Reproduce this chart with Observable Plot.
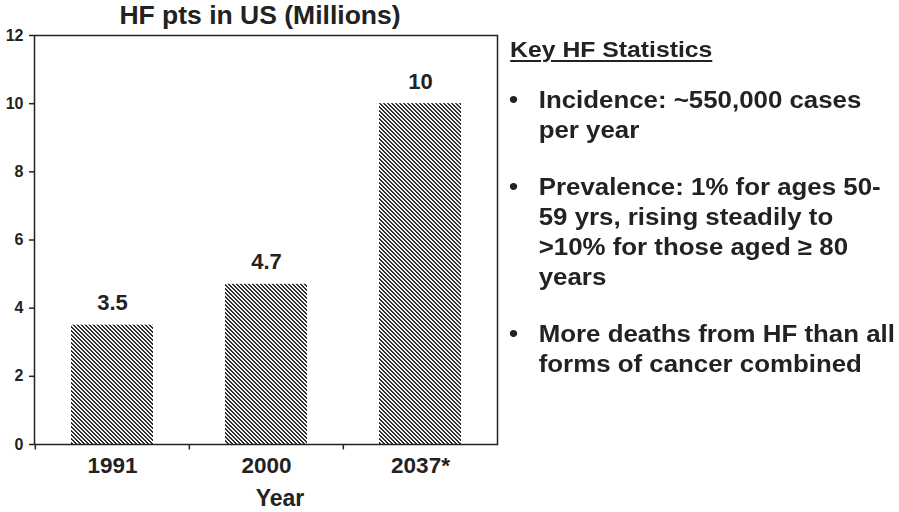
<!DOCTYPE html>
<html>
<head>
<meta charset="utf-8">
<script src="https://cdn.jsdelivr.net/npm/d3@7"></script>
<script src="https://cdn.jsdelivr.net/npm/@observablehq/plot@0.6"></script>
<style>
  html, body { margin: 0; padding: 0; background: #fff; }
  #wrap { position: relative; width: 899px; height: 512px; overflow: hidden; font-family: "Liberation Sans", Arial, sans-serif; color: #222; }
  #stats { position: absolute; left: 509px; top: 0; width: 360px; transform: scaleX(1.1); transform-origin: left top; font-weight: bold; color: #222; }
  #stats .head { position: absolute; left: 1px; top: 35px; font-size: 22.5px; line-height: 30px; text-decoration: underline; text-underline-offset: 3px; text-decoration-thickness: 2px; white-space: nowrap; }
  #stats .item { position: absolute; left: 0; font-size: 23.5px; line-height: 30px; white-space: nowrap; }
  #stats .bullet { position: absolute; left: 0; top: 0; }
  #stats .txt { position: absolute; left: 27px; top: 0; }
</style>
</head>
<body>
<div id="wrap"></div>
<script>
// ---- data ----
const categories = ["1991", "2000", "2037*"];
const values = [3.5, 4.7, 10];
const yTicks = [0, 2, 4, 6, 8, 10, 12];
const chartTitle = "HF pts in US (Millions)";
const xTitle = "Year";
const statsHeading = "Key HF Statistics";
const statsItems = [
  ["Incidence: ~550,000 cases", "per year"],
  ["Prevalence: 1% for ages 50-", "59 yrs, rising steadily to", ">10% for those aged \u2265 80", "years"],
  ["More deaths from HF than all", "forms of cancer combined"]
];

const data = categories.map((c, i) => ({year: c, value: values[i]}));

const W = 899, H = 512, mL = 34, mR = 402, mT = 35, mB = 68;
const step = (W - mL - mR) / categories.length;
const ink = "#222";

const plot = Plot.plot({
  width: W,
  height: H,
  marginLeft: mL,
  marginRight: mR,
  marginTop: mT,
  marginBottom: mB,
  style: {fontFamily: "'Liberation Sans', Arial, sans-serif", color: ink, background: "transparent"},
  x: {type: "band", domain: categories, paddingInner: 0.47, paddingOuter: 0.235, label: null},
  y: {domain: [0, 12], label: null},
  marks: [
    Plot.barY(data, {x: "year", y: "value", fill: "url(#hatch)"}),
    Plot.frame({stroke: ink, strokeWidth: 1.5}),
    Plot.axisY({ticks: yTicks, tickSize: 5, tickPadding: 6, fontSize: 16, fontWeight: "bold", stroke: ink, strokeWidth: 1.5, label: null}),
    Plot.axisX({tickSize: 0, tickPadding: 13, fontSize: 22.5, fontWeight: "bold", label: null}),
    Plot.ruleX(categories, {x: d => d, y1: 0, y2: -0.16, dx: -step / 2, stroke: ink, strokeWidth: 1.5}),
    Plot.text(data, {x: "year", y: "value", text: d => String(d.value), dy: -22, fontSize: 22, fontWeight: "bold", fill: ink}),
    Plot.text([chartTitle], {frameAnchor: "top", lineAnchor: "middle", text: d => d, dy: -20, dx: -6, fontSize: 26.5, fontWeight: "bold", fill: ink}),
    Plot.text([xTitle], {frameAnchor: "bottom", lineAnchor: "middle", text: d => d, dy: 54, dx: 14, fontSize: 23, fontWeight: "bold", fill: ink})
  ]
});

// hatch pattern definition (pixel aligned "\\" diagonals)
const ns = "http://www.w3.org/2000/svg";
const defs = document.createElementNS(ns, "defs");
const pat = document.createElementNS(ns, "pattern");
pat.setAttribute("id", "hatch");
pat.setAttribute("patternUnits", "userSpaceOnUse");
pat.setAttribute("width", "4");
pat.setAttribute("height", "4");
const bg = document.createElementNS(ns, "rect");
bg.setAttribute("width", "4"); bg.setAttribute("height", "4"); bg.setAttribute("fill", "#f4f4f4");
pat.appendChild(bg);
for (let r = 0; r < 4; r++) {
  for (let k = 0; k < 2; k++) {
    const c = (r + k) % 4;
    const px = document.createElementNS(ns, "rect");
    px.setAttribute("x", c); px.setAttribute("y", r);
    px.setAttribute("width", "1"); px.setAttribute("height", "1");
    px.setAttribute("fill", "#2e2e2e");
    pat.appendChild(px);
  }
}
defs.appendChild(pat);
plot.insertBefore(defs, plot.firstChild);

const wrap = document.getElementById("wrap");
wrap.appendChild(plot);

// right-hand statistics panel
const stats = document.createElement("div");
stats.id = "stats";
const head = document.createElement("div");
head.className = "head";
head.textContent = statsHeading;
stats.appendChild(head);
let itemTop = 85;
statsItems.forEach((lines) => {
  const item = document.createElement("div");
  item.className = "item";
  item.style.top = itemTop + "px";
  const b = document.createElement("span");
  b.className = "bullet";
  b.textContent = "\u2022";
  item.appendChild(b);
  const t = document.createElement("div");
  t.className = "txt";
  lines.forEach((ln, j) => {
    if (j) t.appendChild(document.createElement("br"));
    t.appendChild(document.createTextNode(ln));
  });
  item.appendChild(t);
  stats.appendChild(item);
  itemTop += lines.length * 30 + 27;
});
wrap.appendChild(stats);
</script>
</body>
</html>
